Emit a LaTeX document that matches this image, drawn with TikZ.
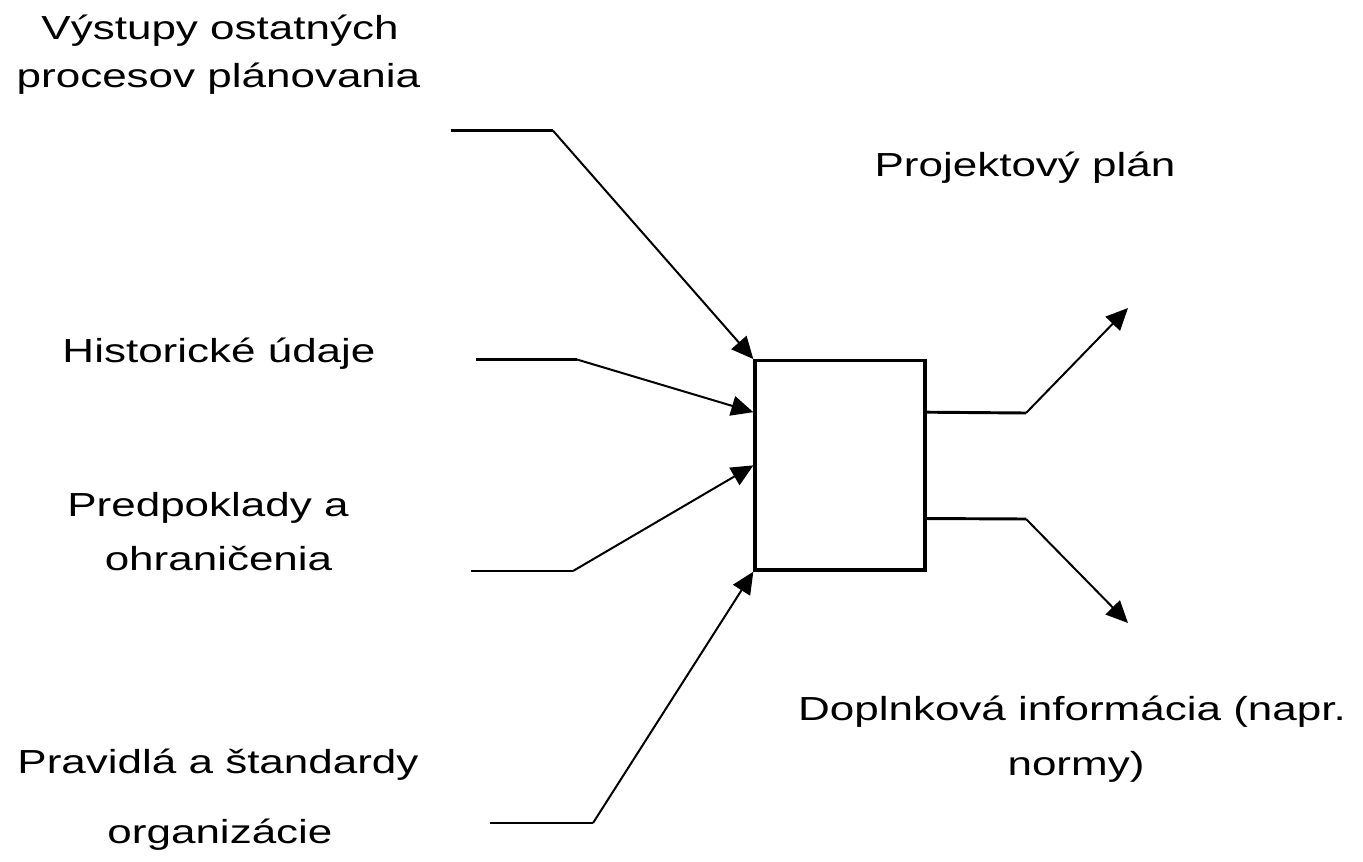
\documentclass[tikz,border=0pt]{standalone}
\usepackage{fontspec}
\setmainfont{Liberation Sans}[FakeStretch=1.32]
\usetikzlibrary{arrows.meta,calc}
\begin{document}
\begin{tikzpicture}[x=0.75pt,y=-0.75pt,
  lbl/.style={anchor=base,inner sep=0pt,font=\fontsize{25}{30}\selectfont},
  proc/.style={draw,line width=2.5pt,minimum width=127.5pt,minimum height=157pt,inner sep=0pt},
  lead/.style={line width=2.2pt},
  flow/.style={line width=1.5pt,-{Triangle[length=16.5pt,width=15pt]}}]
\fill[white] (0,0) rectangle (1363,861);
\useasboundingbox (0,0) rectangle (1363,861);

% process box
\node[proc] (box) at (840,465.35) {};

% labels
\node[lbl] (outa) at (220,39) {Výstupy ostatných};
\node[lbl] (outb) at (218.5,87.5) {procesov plánovania};
\node[lbl] (hist) at (219,362) {Historické údaje};
\node[lbl] (preda) at (208,516.7) {Predpoklady a};
\node[lbl] (predb) at (218.5,570.7) {ohraničenia};
\node[lbl] (prava) at (218,773) {Pravidlá a štandardy};
\node[lbl] (pravb) at (220,843) {organizácie};
\node[lbl] (plan) at (1025,176.7) {Projektový plán};
\node[lbl] (dopa) at (1072,720) {Doplnková informácia (napr.};
\node[lbl] (dopb) at (1076,775) {normy)};

% inputs
\coordinate (s1) at (451,130.7);
\coordinate (k1) at (553,130.7);
\draw[lead] (s1) -- (k1);
\draw[flow] (k1) -- (box.north west);

\coordinate (s2) at (476,359.5);
\coordinate (k2) at (577,359.5);
\draw[lead] (s2) -- (k2);
\draw[flow] (k2) -- ($(box.north west)!0.25!(box.south west)$);

\coordinate (s3) at (471,571);
\coordinate (k3) at (573,571);
\draw[lead] (s3) -- (k3);
\draw[flow] (k3) -- ($(box.north west)!0.5!(box.south west)$);

\coordinate (s4) at (490,823);
\coordinate (k4) at (593,823);
\draw[lead] (s4) -- (k4);
\draw[flow] (k4) -- (box.south west);

% outputs
\coordinate (k5) at (1026,413);
\coordinate (e5) at (1128,308);
\draw[lead] ($(box.north east)!0.25!(box.south east)$) -- (k5);
\draw[flow] (k5) -- (e5);

\coordinate (k6) at (1026,519);
\coordinate (e6) at (1128,623);
\draw[lead] ($(box.north east)!0.75!(box.south east)$) -- (k6);
\draw[flow] (k6) -- (e6);
\end{tikzpicture}
\end{document}
